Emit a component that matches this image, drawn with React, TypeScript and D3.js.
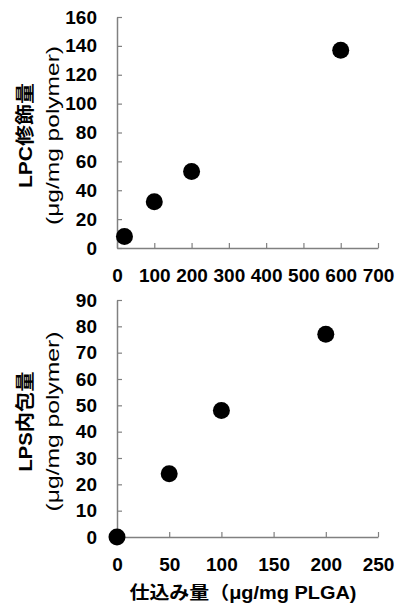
import { useEffect, useRef } from 'react';
import * as d3 from 'd3';

// LPC修飾量 vs 仕込み量 (top panel)
const LPC_INPUT = [20, 100, 200, 600];
const LPC_AMOUNT = [8, 32, 53, 137];
const LPC_X_TICKS = [0, 100, 200, 300, 400, 500, 600, 700];
const LPC_Y_TICKS = [0, 20, 40, 60, 80, 100, 120, 140, 160];

// LPS内包量 vs 仕込み量 (bottom panel)
const LPS_INPUT = [0, 50, 100, 200];
const LPS_AMOUNT = [0, 24, 48, 77];
const LPS_X_TICKS = [0, 50, 100, 150, 200, 250];
const LPS_Y_TICKS = [0, 10, 20, 30, 40, 50, 60, 70, 80, 90];

const FONT = '"Liberation Sans", Arial, "Noto Sans CJK JP", sans-serif';
const AXIS_COLOR = '#808080';

export default function App() {
  const svgRef = useRef<SVGSVGElement>(null);

  useEffect(() => {
    if (!svgRef.current) return;
    const svg = d3.select(svgRef.current);
    svg.selectAll('*').remove();

    const left = 117;
    const right = 378;

    const panels = [
      {
        xs: LPC_INPUT, ys: LPC_AMOUNT, xTicks: LPC_X_TICKS, yTicks: LPC_Y_TICKS,
        top: 17, bottom: 248,
        title: 'LPC修飾量', unit: '(μg/mg polymer)', titleLen: 105, unitLen: 179,
      },
      {
        xs: LPS_INPUT, ys: LPS_AMOUNT, xTicks: LPS_X_TICKS, yTicks: LPS_Y_TICKS,
        top: 300, bottom: 537,
        title: 'LPS内包量', unit: '(μg/mg  polymer)', titleLen: 100, unitLen: 180,
      },
    ];

    panels.forEach((p) => {
      const x = d3.scaleLinear()
        .domain([0, p.xTicks[p.xTicks.length - 1]])
        .range([left, right]);
      const y = d3.scaleLinear()
        .domain([0, p.yTicks[p.yTicks.length - 1]])
        .range([p.bottom, p.top]);

      const xAxis = svg.append('g')
        .attr('transform', `translate(0,${p.bottom})`)
        .call(d3.axisBottom(x).tickValues(p.xTicks).tickSizeInner(-5).tickSizeOuter(0).tickPadding(21));
      const yAxis = svg.append('g')
        .attr('transform', `translate(${left},0)`)
        .call(d3.axisLeft(y).tickValues(p.yTicks).tickSizeInner(-5).tickSizeOuter(0).tickPadding(20));

      [xAxis, yAxis].forEach((a) => {
        a.attr('font-family', FONT).attr('font-size', 19).attr('font-weight', 'bold');
        a.select('.domain').attr('stroke', AXIS_COLOR).attr('stroke-width', 1.5);
        a.selectAll('.tick line').attr('stroke', AXIS_COLOR).attr('stroke-width', 1.2);
        a.selectAll('.tick text').attr('fill', '#000');
      });

      // Rotated y titles
      const cy = (p.top + p.bottom) / 2 + 3;
      svg.append('text')
        .attr('transform', `translate(32,${cy}) rotate(-90)`)
        .attr('text-anchor', 'middle')
        .attr('font-family', FONT).attr('font-size', 19).attr('font-weight', 'bold')
        .attr('textLength', p.titleLen).attr('lengthAdjust', 'spacingAndGlyphs')
        .text(p.title);
      svg.append('text')
        .attr('transform', `translate(59,${cy}) rotate(-90)`)
        .attr('text-anchor', 'middle')
        .attr('font-family', FONT).attr('font-size', 18)
        .attr('textLength', p.unitLen).attr('lengthAdjust', 'spacingAndGlyphs')
        .text(p.unit);

      svg.append('g')
        .selectAll('circle')
        .data(p.xs.map((v, i) => [v, p.ys[i]]))
        .join('circle')
        .attr('cx', (d) => x(d[0]))
        .attr('cy', (d) => y(d[1]))
        .attr('r', 8.5)
        .attr('fill', '#000');
    });

    // Shared x title
    svg.append('text')
      .attr('x', 243).attr('y', 599)
      .attr('text-anchor', 'middle')
      .attr('font-family', FONT).attr('font-size', 18).attr('font-weight', 'bold')
      .attr('textLength', 227).attr('lengthAdjust', 'spacingAndGlyphs')
      .text('仕込み量（μg/mg PLGA)');
  }, []);

  return (
    <div style={{ position: 'absolute', left: 0, top: 0 }}>
      <svg ref={svgRef} width={398} height={603} style={{ display: 'block', background: '#fff' }} />
    </div>
  );
}
